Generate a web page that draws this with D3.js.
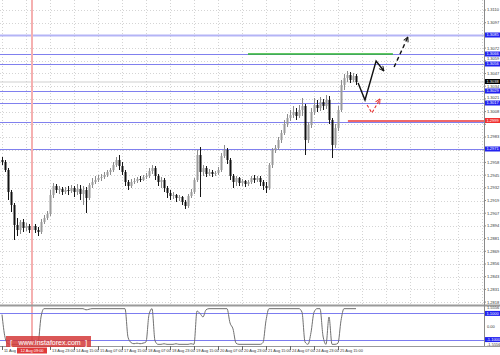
<!DOCTYPE html>
<html><head><meta charset="utf-8">
<script src="https://cdn.jsdelivr.net/npm/d3@7"></script>
<style>html,body{margin:0;padding:0;background:#fff;overflow:hidden}</style>
</head><body>
<svg id="c" width="500" height="355"></svg>
<script>
const opens = [
1.2960,1.2958,1.2950,1.2928,1.2915,1.2895,1.2890,1.2898,1.2892,1.2894,
1.2890,1.2894,1.2890,1.2888,1.2898,1.2902,1.2906,1.2925,1.2934,1.2930,
1.2931,1.2928,1.2930,1.2929,1.2932,1.2928,1.2931,1.2926,1.2930,1.2922,
1.2935,1.2938,1.2940,1.2942,1.2943,1.2945,1.2948,1.2950,1.2955,1.2960,
1.2954,1.2948,1.2938,1.2934,1.2938,1.2939,1.2941,1.2940,1.2943,1.2944,
1.2949,1.2952,1.2944,1.2938,1.2940,1.2932,1.2927,1.2924,1.2925,1.2922,
1.2923,1.2918,1.2914,1.2924,1.2928,1.2940,1.2965,1.2948,1.2952,1.2946,
1.2948,1.2946,1.2947,1.2950,1.2964,1.2970,1.2960,1.2944,1.2938,1.2942,
1.2937,1.2939,1.2936,1.2938,1.2942,1.2940,1.2942,1.2938,1.2934,1.2932,
1.2955,1.2970,1.2972,1.2980,1.2987,1.2996,1.3002,1.3005,1.3008,1.3004,
1.3010,1.3014,1.2980,1.2995,1.3008,1.3015,1.3012,1.3018,1.3014,1.3020,
1.3000,1.2975,1.2992,1.3010,1.3035,1.3042,1.3045,1.3040,1.3044];
const highs = [
1.2963,1.2960,1.2952,1.2930,1.2917,1.2902,1.2900,1.2901,1.2897,1.2896,
1.2898,1.2896,1.2893,1.2901,1.2905,1.2909,1.2930,1.2937,1.2936,1.2934,
1.2933,1.2933,1.2934,1.2935,1.2934,1.2936,1.2935,1.2934,1.2933,1.2937,
1.2942,1.2944,1.2945,1.2946,1.2948,1.2950,1.2952,1.2958,1.2963,1.2965,
1.2958,1.2950,1.2940,1.2941,1.2942,1.2943,1.2944,1.2945,1.2947,1.2952,
1.2955,1.2954,1.2946,1.2943,1.2942,1.2934,1.2930,1.2928,1.2926,1.2925,
1.2924,1.2920,1.2926,1.2931,1.2942,1.2970,1.2973,1.2955,1.2954,1.2951,
1.2950,1.2949,1.2953,1.2967,1.2975,1.2972,1.2962,1.2946,1.2944,1.2943,
1.2941,1.2940,1.2940,1.2944,1.2945,1.2944,1.2944,1.2940,1.2938,1.2957,
1.2972,1.2975,1.2983,1.2990,1.3000,1.3006,1.3010,1.3014,1.3012,1.3015,
1.3022,1.3016,1.2998,1.3012,1.3022,1.3020,1.3023,1.3021,1.3025,1.3024,
1.3002,1.2996,1.3014,1.3040,1.3046,1.3049,1.3048,1.3047,1.3046];
const lows = [
1.2955,1.2948,1.2920,1.2908,1.2880,1.2884,1.2886,1.2888,1.2889,1.2887,
1.2889,1.2887,1.2884,1.2886,1.2896,1.2900,1.2904,1.2922,1.2927,1.2926,
1.2925,1.2926,1.2925,1.2927,1.2923,1.2925,1.2920,1.2915,1.2907,1.2920,
1.2932,1.2936,1.2938,1.2939,1.2941,1.2943,1.2945,1.2948,1.2953,1.2950,
1.2945,1.2934,1.2930,1.2932,1.2936,1.2937,1.2938,1.2939,1.2941,1.2942,
1.2946,1.2940,1.2934,1.2932,1.2928,1.2922,1.2920,1.2921,1.2918,1.2919,
1.2915,1.2911,1.2912,1.2922,1.2926,1.2938,1.2923,1.2944,1.2943,1.2944,
1.2943,1.2944,1.2945,1.2948,1.2962,1.2956,1.2940,1.2932,1.2934,1.2934,
1.2934,1.2933,1.2934,1.2936,1.2937,1.2938,1.2934,1.2930,1.2927,1.2930,
1.2952,1.2967,1.2970,1.2977,1.2985,1.2993,1.2999,1.3002,1.3000,1.3002,
1.3004,1.2965,1.2977,1.2992,1.3005,1.3008,1.3009,1.3010,1.3011,1.2996,
1.2962,1.2972,1.2989,1.3008,1.3030,1.3038,1.3037,1.3038,1.3035];
const closes = [
1.2958,1.2950,1.2928,1.2915,1.2895,1.2890,1.2898,1.2892,1.2894,1.2890,
1.2894,1.2890,1.2888,1.2898,1.2902,1.2906,1.2925,1.2934,1.2930,1.2931,
1.2928,1.2930,1.2929,1.2932,1.2928,1.2931,1.2926,1.2930,1.2922,1.2935,
1.2938,1.2940,1.2942,1.2943,1.2945,1.2948,1.2950,1.2955,1.2960,1.2954,
1.2948,1.2938,1.2934,1.2938,1.2939,1.2941,1.2940,1.2943,1.2944,1.2949,
1.2952,1.2944,1.2938,1.2940,1.2932,1.2927,1.2924,1.2925,1.2922,1.2923,
1.2918,1.2914,1.2924,1.2928,1.2940,1.2965,1.2948,1.2952,1.2946,1.2948,
1.2946,1.2947,1.2950,1.2964,1.2970,1.2960,1.2944,1.2938,1.2942,1.2937,
1.2939,1.2936,1.2938,1.2942,1.2940,1.2942,1.2938,1.2934,1.2932,1.2955,
1.2970,1.2972,1.2980,1.2987,1.2996,1.3002,1.3005,1.3008,1.3004,1.3010,
1.3014,1.2980,1.2995,1.3008,1.3015,1.3012,1.3018,1.3014,1.3020,1.3000,
1.2975,1.2992,1.3010,1.3035,1.3042,1.3045,1.3040,1.3044,1.3038];

const osc = [
1.0,-0.9,-1.45,-1.5,-1.5,-1.5,-1.48,-1.5,-1.5,-1.5,
-1.5,-1.5,-1.4,0.8,1.5,1.5,1.5,1.5,1.5,1.5,
1.5,1.5,1.5,1.5,1.5,1.5,1.5,1.5,1.4,1.45,
1.5,1.5,1.5,1.5,1.5,1.5,1.5,1.5,1.5,1.5,
1.5,1.5,-0.9,-1.35,-1.45,-1.4,-1.45,-1.4,-1.3,1.0,
1.5,-1.2,-1.5,-1.5,-1.45,-1.5,-1.5,-1.5,-1.45,-1.5,
-1.5,-1.5,-1.5,-1.45,-1.5,1.3,1.1,0.8,1.4,1.5,
1.5,1.5,1.5,1.5,1.5,1.5,0.3,-0.2,-1.4,-1.5,
-1.5,-1.5,-1.5,-1.5,-1.5,-1.5,-1.5,-1.35,0.5,1.5,
1.5,1.5,1.5,1.5,1.5,1.5,1.5,1.5,1.5,1.5,
1.2,-1.3,-1.5,-0.5,1.2,1.5,1.5,-0.8,-1.5,0.8,
-1.5,-1.5,-1.4,0.5,1.5,1.5,1.5,1.5,1.5];

const priceTicks = [1.31100,1.30973,1.30846,1.30719,1.30592,1.30465,1.30338,1.30211,1.30084,1.29957,
 1.29830,1.29703,1.29576,1.29449,1.29322,1.29195,1.29068,1.28941,1.28814,1.28687,1.28560,1.28433,1.28306,1.28179];
const blueLevels = [1.3085,1.3066,1.3056,1.3029,1.3017,1.2998,1.2971];
const topLevel = 1.3085;
const redLevel = 1.2999, redStart = 115.3;
const greenLevel = 1.3066, greenStart = 82, greenEnd = 130.3;
const bidPrice = 1.3038;
const oscTicks = [1.5556, 0, -1.5556];
const oscLevels = [1.1, -1.1];
const dateIdx = [0,16,24,32,40,48,56,64,72,80,88,96,104,112];
const dateLabels = ["11 Aug 2017","13 Aug 23:00","14 Aug 15:00","15 Aug 07:00","17 Aug 15:00","18 Aug 07:00",
 "18 Aug 23:00","19 Aug 15:00","20 Aug 07:00","20 Aug 23:00","21 Aug 15:00","24 Aug 07:00","24 Aug 23:00","25 Aug 15:00"];
const vLineIdx = 10, vLineLabel = "12 Aug 09:00";
const forecastBlack = [[118.7,1.3037],[121,1.3020],[124.7,1.3059],[127.3,1.3049]];
const forecastDashed = [[130.7,1.3053],[135.3,1.3083]];
const forecastRed = [[121.7,1.3015],[123.3,1.3007],[126,1.3021]];

const W=500, H=355, axisX=484, mainBottom=304, oscBottom=346;
const svg = d3.select('#c');
const font = 'Liberation Sans, Arial, sans-serif';
const x = d3.scaleLinear().domain([0,118]).range([2,356]);
const y = d3.scaleLinear().domain([1.3120-0.0304,1.3120]).range([mainBottom,0]);
const yo = d3.scaleLinear().domain([-1.5556,1.5556]).range([345,308]);

const defs = svg.append('defs');
function marker(id,color){
  defs.append('marker').attr('id',id).attr('viewBox','0 0 10 10').attr('refX',9).attr('refY',5)
   .attr('markerWidth',6).attr('markerHeight',6).attr('orient','auto').attr('markerUnits','userSpaceOnUse')
   .append('path').attr('d','M1,1 L9,5 L1,9').attr('fill','none').attr('stroke',color).attr('stroke-width',1.6);
}
marker('ab','#111'); marker('ar','#e53030');
defs.append('clipPath').attr('id','firstLab').append('rect').attr('x',0).attr('y',340).attr('width',16.5).attr('height',15);

const main = svg.append('g');
main.selectAll('line.hg').data(priceTicks).join('line')
 .attr('x1',0).attr('x2',axisX).attr('y1',d=>Math.round(y(d))+0.5).attr('y2',d=>Math.round(y(d))+0.5)
 .attr('stroke','#d4d4d4').attr('stroke-dasharray','1,2');
const gridIdx = d3.range(0,161,8);
main.selectAll('line.vg').data(gridIdx).join('line')
 .attr('x1',d=>Math.round(x(d))+0.5).attr('x2',d=>Math.round(x(d))+0.5).attr('y1',0).attr('y2',mainBottom)
 .attr('stroke','#d4d4d4').attr('stroke-dasharray','1,2');

main.append('line').attr('x1',0).attr('x2',axisX).attr('y1',y(bidPrice)).attr('y2',y(bidPrice)).attr('stroke','#cfcfcf');
main.selectAll('line.bl').data(blueLevels).join('line')
 .attr('x1',0).attr('x2',axisX).attr('y1',d=>Math.round(y(d))+0.5).attr('y2',d=>Math.round(y(d))+0.5)
 .attr('stroke',d=>d===topLevel?'#b4b4f6':'#8080ee').attr('stroke-width',d=>d===topLevel?2:1);
main.append('line').attr('x1',x(greenStart)).attr('x2',x(greenEnd)).attr('y1',y(greenLevel)).attr('y2',y(greenLevel))
 .attr('stroke','#2db52d').attr('stroke-width',1.5);
main.append('line').attr('x1',x(redStart)).attr('x2',axisX).attr('y1',y(redLevel)).attr('y2',y(redLevel))
 .attr('stroke','#f06868').attr('stroke-width',2);
svg.append('line').attr('x1',x(vLineIdx)).attr('x2',x(vLineIdx)).attr('y1',0).attr('y2',oscBottom)
 .attr('stroke','#f5b0b0').attr('stroke-width',2);

const bars = opens.map((o,i)=>({i,o,h:highs[i],l:lows[i],c:closes[i]}));
main.selectAll('line.wk').data(bars).join('line')
 .attr('x1',d=>Math.round(x(d.i))+0.5).attr('x2',d=>Math.round(x(d.i))+0.5)
 .attr('y1',d=>y(d.h)).attr('y2',d=>y(d.l))
 .attr('stroke',d=>d.c>=d.o?'#8c8c8c':'#151515');
main.selectAll('rect.bd').data(bars).join('rect')
 .attr('x',d=>Math.round(x(d.i))-0.5).attr('width',2)
 .attr('y',d=>y(Math.max(d.o,d.c))).attr('height',d=>Math.max(1,Math.abs(y(d.o)-y(d.c))))
 .attr('fill',d=>d.c>=d.o?'#9a9a9a':'#111');

const ln = d3.line().x(d=>x(d[0])).y(d=>y(d[1]));
main.append('path').attr('d',ln(forecastBlack)).attr('fill','none').attr('stroke','#111').attr('stroke-width',1.4).attr('marker-end','url(#ab)');
main.append('path').attr('d',ln(forecastDashed)).attr('fill','none').attr('stroke','#111').attr('stroke-width',1.4)
 .attr('stroke-dasharray','4,3').attr('marker-end','url(#ab)');
main.append('path').attr('d',ln(forecastRed)).attr('fill','none').attr('stroke','#e53030').attr('stroke-width',1.1)
 .attr('stroke-dasharray','3,2').attr('marker-end','url(#ar)');

svg.append('rect').attr('x',0).attr('y',mainBottom+0.5).attr('width',W).attr('height',2).attr('fill','#9a9a9a');
svg.selectAll('line.ol').data(oscLevels).join('line')
 .attr('x1',0).attr('x2',axisX).attr('y1',d=>Math.round(yo(d))+0.5).attr('y2',d=>Math.round(yo(d))+0.5)
 .attr('stroke','#7c7cf0');
const ol = d3.line().x((d,i)=>x(i)).y(d=>yo(d)).curve(d3.curveMonotoneX);
svg.append('path').attr('d',ol(osc)).attr('fill','none').attr('stroke','#707070').attr('stroke-width',1);
svg.append('line').attr('x1',0).attr('x2',W).attr('y1',oscBottom+0.5).attr('y2',oscBottom+0.5).attr('stroke','#9a9a9a');

// right axis
svg.append('line').attr('x1',axisX+0.5).attr('x2',axisX+0.5).attr('y1',0).attr('y2',oscBottom).attr('stroke','#8a8a8a');
const fs = 4;
const boxYs = blueLevels.map(v=>y(v)).concat([y(redLevel), y(bidPrice)]);
const shownTicks = priceTicks.filter(t=>boxYs.every(b=>Math.abs(b-y(t))>2.5));
function nudge(t){
  const ty = y(t); let off = 0;
  boxYs.forEach(b=>{ const d = ty-b; if (Math.abs(d)<5) off += (d<0?-1:1)*(5-Math.abs(d)); });
  return off;
}
svg.selectAll('line.pk').data(priceTicks).join('line')
 .attr('x1',axisX).attr('x2',axisX+2).attr('y1',d=>y(d)).attr('y2',d=>y(d)).attr('stroke','#888');
svg.selectAll('text.pt').data(shownTicks).join('text')
 .attr('x',axisX+3).attr('y',d=>y(d)+nudge(d)).attr('dy','0.35em').attr('font-family',font).attr('font-size',fs).attr('fill','#333')
 .text(d=>d.toFixed(4));
function box(yy,color,txt){
  svg.append('rect').attr('x',axisX+1).attr('y',yy-2.5).attr('width',16).attr('height',5).attr('fill',color);
  svg.append('text').attr('x',axisX+2.5).attr('y',yy).attr('dy','0.35em').attr('font-family',font).attr('font-size',fs)
   .attr('fill','#fff').text(txt);
}
blueLevels.filter(v=>Math.abs(y(v)-y(redLevel))>2).forEach(v=>box(y(v),'#2222f0',v.toFixed(4)));
box(y(redLevel)-0.5,'#f03030',redLevel.toFixed(4));
box(y(bidPrice)-0.5,'#000',bidPrice.toFixed(4));
svg.selectAll('text.ot').data(oscTicks).join('text')
 .attr('x',axisX+3).attr('y',d=>yo(d)).attr('dy','0.35em').attr('font-family',font).attr('font-size',fs).attr('fill','#333')
 .text(d=>d===0?'0.00':d.toFixed(4));
oscLevels.forEach(v=>box(yo(v),'#2222f0',v.toFixed(4)));

// x axis
svg.selectAll('line.xt').data(dateIdx).join('line')
 .attr('x1',d=>Math.round(x(d))+0.5).attr('x2',d=>Math.round(x(d))+0.5).attr('y1',oscBottom).attr('y2',oscBottom+4).attr('stroke','#666');
svg.selectAll('text.xl').data(dateIdx).join('text')
 .attr('x',d=>x(d)+2).attr('y',oscBottom+5.5).attr('font-family',font).attr('font-size',3.9).attr('fill','#333')
 .attr('clip-path',(d,i)=>i===0?'url(#firstLab)':null)
 .text((d,i)=>dateLabels[i]);
const vx = x(vLineIdx);
svg.append('rect').attr('x',vx-15).attr('y',oscBottom+1.5).attr('width',30).attr('height',6).attr('fill','#e03a3a');
svg.append('text').attr('x',vx).attr('y',oscBottom+6).attr('text-anchor','middle').attr('font-family',font).attr('font-size',3.9).attr('fill','#fff').text(vLineLabel);

// watermark
svg.append('rect').attr('x',6).attr('y',336).attr('width',85).attr('height',11).attr('fill','rgba(212,58,58,0.85)');
svg.append('text').attr('x',10).attr('y',344.7).attr('font-family',font).attr('font-size',8).attr('fill','#fff').text('[');
svg.append('text').attr('x',85).attr('y',344.7).attr('font-family',font).attr('font-size',8).attr('fill','#fff').text(']');
svg.append('text').attr('x',49.5).attr('y',344.5).attr('text-anchor','middle').attr('font-family',font).attr('font-size',7).attr('fill','#fff').text('www.instaforex.com');
</script>
</body></html>
